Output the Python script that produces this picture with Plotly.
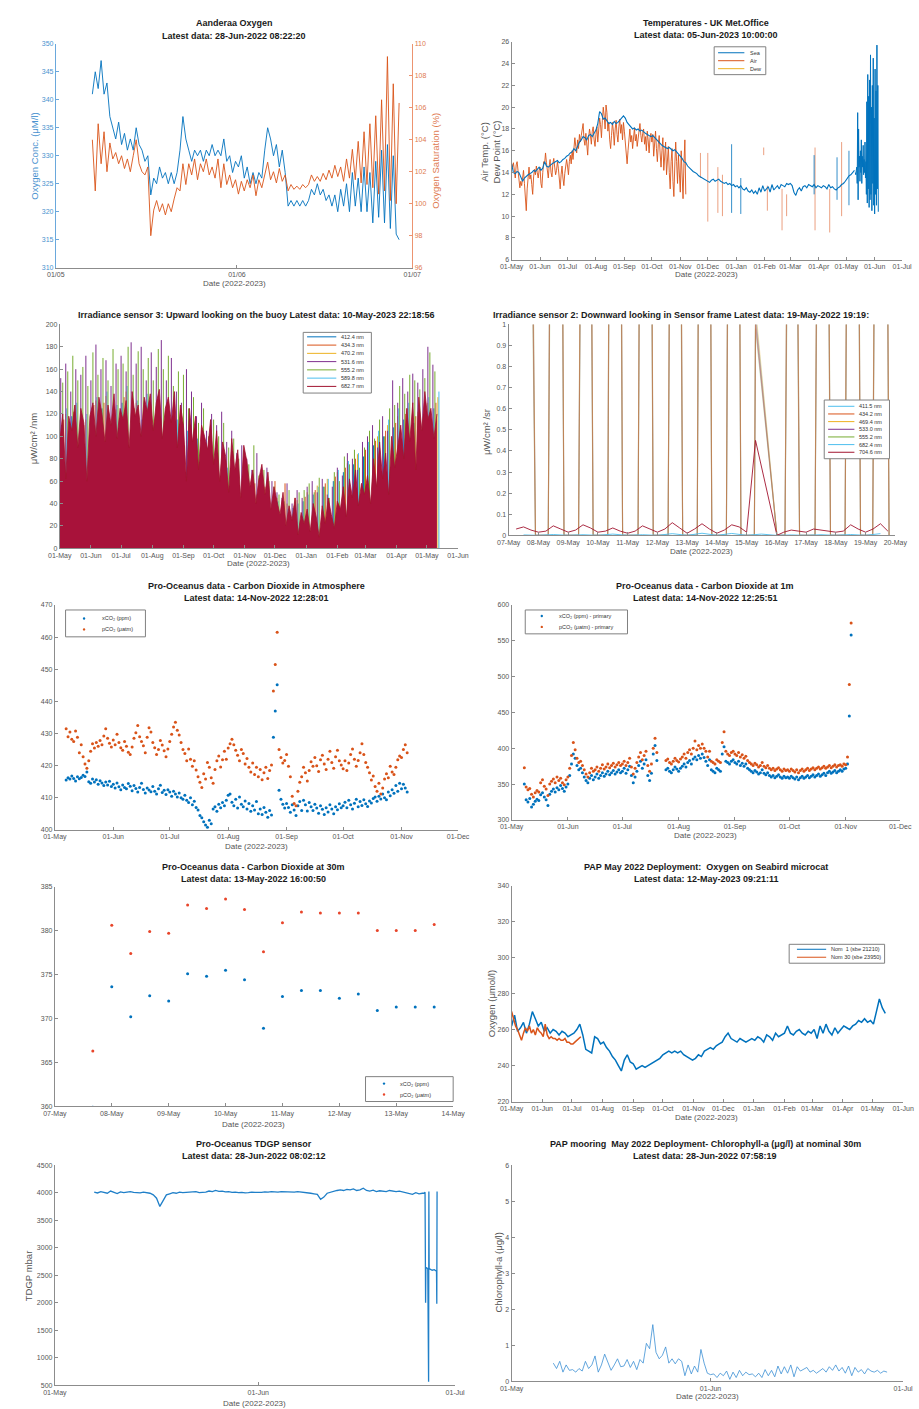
import pandas as pd
import plotly.graph_objects as go

# ======================= DATA =======================
# Panel 1: Aanderaa oxygen, 12-hourly
oxy_start = "2022-05-07 06:00"
oxy_conc = [
    341, 345, 342, 347, 341, 343, 337, 335, 333, 336,
    332, 334, 331, 333, 331, 335, 332, 331, 329, 330,
    323, 326, 325, 328, 326, 327, 325, 327, 325, 327,
    331, 337, 333, 331, 329, 331, 330, 331, 329, 331,
    330, 332, 330, 331, 330, 333, 329, 330, 327, 329,
    328, 330, 326, 328, 325, 327, 325, 327, 326, 331,
    335, 333, 330, 332, 328, 331, 327, 321, 322, 321,
    322, 321, 322, 321, 322, 324, 323, 325, 323, 324,
    322, 323, 321, 323, 320, 324, 321, 325, 320, 327,
    321, 326, 320, 328, 320, 327, 318, 329, 319, 331,
    318, 332, 317, 330, 316, 315]
oxy_sat = [
    104.0, 100.8, 105.0, 102.5, 104.5, 102.0, 103.8, 102.8, 103.2, 102.5,
    103.0, 102.2, 102.8, 102.0, 103.0, 104.0, 102.5, 102.0, 101.8, 102.3,
    98.0, 99.6, 100.2, 99.5, 100.0, 99.3, 100.0, 99.5, 100.3, 101.0,
    100.8, 102.5, 101.2, 102.5, 101.8, 102.8, 101.5, 102.5, 102.0, 102.8,
    101.8, 102.3, 101.6, 102.8, 101.0, 102.5, 101.2, 101.8, 101.0, 101.5,
    100.6, 101.4, 100.8, 101.5, 101.0, 101.8, 100.5, 101.5, 101.0, 101.8,
    102.6, 101.5, 102.0, 101.3, 102.2, 101.4, 101.8, 100.8, 101.2, 100.9,
    101.1, 100.9, 101.2, 101.0, 101.2, 101.8, 101.4, 101.7, 101.4, 101.9,
    101.5, 102.1, 101.6, 102.4, 101.7, 102.3, 101.4, 102.8, 101.6, 103.4,
    101.5, 103.9, 101.3, 104.5, 101.2, 105.0, 101.0, 105.5, 100.6, 106.5,
    100.8, 109.2, 100.2, 107.5, 100.0, 106.3]

# Panel 2: temperatures
sea_start = "2022-05-01"          # 2-day values
sea_temp = [
    14.8, 14.0, 13.9, 14.1, 14.0, 13.6, 13.2, 13.5, 13.7, 13.8, 13.9, 14.0, 14.2, 14.1, 14.3, 14.5,
    14.2, 14.4, 15.0, 14.6, 14.5, 14.7, 14.8, 14.9, 15.0, 15.1, 14.9, 15.0, 15.2, 15.3, 15.5,
    15.6, 15.8, 15.9, 16.2, 16.0, 16.4, 16.8, 17.0, 17.3, 17.2, 17.0, 17.4, 17.5, 17.3, 17.6,
    17.9, 18.5, 19.6, 19.4, 18.9, 19.0, 18.7, 18.5, 18.6, 18.4, 18.7, 18.5, 18.6, 18.8, 19.0, 19.2,
    19.0, 18.6, 18.4, 18.2, 18.0, 18.1, 17.9, 18.0, 17.8, 17.9, 17.7, 17.6, 17.5, 17.4, 17.3,
    17.4, 17.2, 17.0, 16.8, 16.7, 16.5, 16.4, 16.3, 16.2, 16.3, 16.1, 16.0, 16.1, 15.9, 15.8, 15.6,
    15.3, 15.0, 14.9, 14.6, 14.4, 14.3, 14.1, 14.0, 13.9, 13.7, 13.6, 13.5, 13.4, 13.3, 13.2,
    13.1, 13.3, 13.4, 13.2, 13.3, 13.4, 13.2, 13.1, 13.0, 13.1, 12.9, 13.0, 12.8, 12.9, 12.7, 12.8,
    12.6, 12.8, 12.5, 12.4, 12.6, 12.3, 12.2, 12.4, 12.1, 12.3, 12.0, 12.6, 12.2, 12.8, 12.3, 12.5,
    12.7, 12.2, 12.9, 12.4, 12.6, 12.8, 12.5, 12.9, 12.8, 12.7, 13.0, 12.9, 13.0, 12.8,
    12.2, 11.9, 12.4, 12.6, 12.3, 12.7, 12.8, 12.6, 12.9, 12.8, 12.7, 12.9, 12.6, 12.8, 12.7, 12.6,
    12.8, 12.7, 12.5, 12.9, 12.6, 12.7, 12.5, 12.4, 12.6, 12.7, 12.9, 13.0, 13.2, 13.5, 13.7,
    13.8, 14.0, 14.2]
sea_end_start = "2023-05-11"      # 12-hourly values
sea_temp_end = [
    14.0, 13.8, 14.2, 14.5, 13.0, 19.5, 11.5, 18.0, 14.5, 15.5, 13.2, 16.0, 14.0, 17.0, 13.0, 15.5,
    14.5, 16.5, 13.8, 15.2, 14.0, 16.8, 13.5, 15.0,
    12.0, 20.5, 11.2, 23.0, 12.5, 21.0, 10.8, 22.5, 11.5, 24.8, 12.0, 20.0, 10.5, 22.0, 13.0, 24.5,
    11.0, 19.0, 10.2, 23.5, 12.0, 21.5, 11.0, 25.7, 12.5, 22.0, 10.4]
sea_spike_dates = ["2022-12-27", "2023-01-06", "2023-03-27", "2023-04-21", "2023-05-04"]
sea_spike_lo = [10.3, 10.2, 12.0, 11.5, 11.0]
sea_spike_hi = [16.6, 13.5, 15.6, 15.4, 16.0]
air_start = "2022-05-01"          # daily values
air_temp = [
    14.8, 14.5, 14.9, 14.0, 13.5, 14.7, 15.0, 14.2, 13.0, 12.6, 13.2, 12.8, 13.5, 14.2, 13.0, 11.8,
    10.5, 12.5, 14.0, 14.5, 13.4, 13.8, 12.9, 12.0, 13.6, 14.3, 13.8, 14.6, 14.0, 13.5, 14.2,
    14.5, 13.0, 12.6, 14.0, 15.0, 14.8, 15.8, 14.9, 14.2, 13.5, 14.6, 15.2, 14.0, 13.6, 14.8,
    15.3, 14.5, 13.8, 14.2, 15.0, 14.4, 13.2, 12.5, 13.8, 14.6, 13.5, 12.8, 13.9, 14.7, 15.2,
    14.6, 13.8, 15.0, 15.6, 14.8, 16.0, 15.2, 16.5, 17.2, 16.4, 15.8, 17.0, 16.2, 17.5, 16.8,
    17.4, 18.0, 18.5, 17.0, 16.5, 17.6, 16.8, 15.6, 17.2, 18.0, 17.4, 16.6, 17.8, 18.2, 17.0, 16.4,
    17.5, 18.2, 16.8, 17.6, 19.0, 18.4, 17.2, 18.8, 20.0, 19.2, 18.0, 20.2, 19.5, 17.8, 18.6,
    17.0, 16.2, 17.4, 18.6, 17.8, 16.5, 18.0, 18.8, 17.5, 16.8, 18.2, 18.9, 17.6, 18.4, 17.0, 18.6,
    17.8, 16.5, 15.2, 14.8, 16.0, 17.5, 18.0, 16.8, 17.4, 16.2, 17.8, 18.1, 16.9, 17.5, 16.4,
    17.2, 18.3, 18.5, 17.4, 16.8, 17.6, 18.0, 16.6, 17.3, 16.0, 17.8, 16.9, 15.8, 17.2, 17.6,
    16.8, 17.5, 15.5, 16.9, 17.8, 16.2, 15.0, 16.6, 17.4, 15.8, 14.5, 16.0, 17.2, 14.2, 15.5,
    16.8, 13.8, 15.2, 16.4, 14.0, 12.5, 15.0, 16.2, 13.2, 11.8, 14.6, 16.8, 15.0, 13.0, 15.6, 14.2,
    12.2, 16.0, 13.5, 11.6, 14.8, 17.0, 12.0]
air_spike_dates = ["2022-11-23", "2022-12-01", "2022-12-12", "2022-12-17", "2023-01-31", "2023-02-04",
                   "2023-02-20", "2023-02-25", "2023-03-28", "2023-04-13", "2023-04-26"]
air_spike_lo = [13.5, 9.5, 10.3, 10.0, 15.6, 10.5, 8.7, 10.0, 8.7, 8.5, 10.0]
air_spike_hi = [15.8, 15.8, 14.5, 13.8, 16.3, 12.8, 12.5, 12.0, 16.3, 12.5, 16.8]
dew_temp = []
temp_labels = ["Sea", "Air", "Dew"]

# Panel 3: irradiance sensor 3 (daily peaks)
irr3_labels = ["412.4 nm", "434.3 nm", "470.2 nm", "531.6 nm", "555.2 nm", "589.8 nm", "682.7 nm"]
irr3_6827 = [
    95, 120, 62, 118, 105, 128, 90, 125, 112, 60, 118,
    130, 100, 135, 120, 95, 128, 110, 138, 98, 125,
    115, 132, 90, 140, 118, 128, 100, 135, 122, 138,
    105, 130, 142, 98, 125, 135, 112, 140, 90, 128, 110,
    60, 125, 95, 118, 70, 110, 100, 88, 115, 75,
    105, 60, 95, 82, 50, 98, 70, 88, 45, 92,
    78, 55, 70, 40, 62, 75, 48, 68, 35, 55,
    42, 30, 50, 20, 38, 25, 45, 12, 32, 22,
    35, 15, 40, 28, 10, 38, 22, 45, 30, 18, 42,
    35, 55, 28, 62, 45, 70, 38, 58, 48,
    65, 40, 80, 55, 95, 62, 85, 48, 100, 72, 90,
    110, 80, 125, 95, 130, 70, 135, 105, 140, 115,
    125, 98, 120]
irr3_5316 = [
    152, 165, 140, 160, 155, 172, 150, 182, 160, 168, 145, 165,
    172, 158, 184, 165, 180, 150, 175, 162, 186, 150, 170, 140,
    130, 160, 140, 118, 130, 105, 120, 110, 122, 95, 105, 85,
    92, 80, 70, 85, 62, 72, 60, 50, 45, 58, 40, 52,
    45, 55, 60, 50, 62, 48, 55, 72, 65, 85, 80, 70,
    95, 100, 110, 90, 118, 105, 150, 130, 152, 140, 156, 148,
    160, 180, 164]
irr3_5552 = [
    148, 158, 172, 150, 162, 145, 175, 155, 170, 150, 178, 160,
    165, 180, 155, 176, 160, 170, 150, 178, 160, 172, 145, 158,
    155, 125, 135, 112, 125, 100, 115, 100, 112, 90, 98, 80,
    88, 75, 92, 65, 70, 60, 55, 48, 42, 52, 38, 50,
    52, 58, 50, 63, 55, 45, 68, 60, 82, 75, 88, 72,
    90, 105, 98, 115, 100, 125, 128, 145, 138, 155, 150, 142,
    152, 175, 158]
irr3_5898 = [125, 130, 120, 135, 140, 128, 145, 132, 138, 130, 120, 115, 105, 98, 90, 85, 72, 65, 58,
             45, 38, 42, 35, 40, 48, 55, 62, 70, 78, 85, 95, 105, 115, 125, 130, 128, 135, 140]
irr3_4124 = [110, 118, 105, 122, 125, 112, 130, 120, 115, 110, 100, 95, 88, 82, 75, 70, 60, 55, 50,
             40, 35, 38, 32, 36, 42, 48, 55, 60, 68, 75, 82, 92, 100, 108, 115, 112, 120, 125]
irr3_4343 = [115, 122, 110, 128, 130, 118, 135, 125, 120, 115, 105, 100, 92, 86, 80, 74, 64, 58, 62,
             58, 55, 60, 58, 45, 46, 52, 58, 64, 72, 80, 88, 96, 105, 112, 120, 118, 125, 130]
irr3_4702 = [120, 128, 115, 132, 136, 124, 140, 130, 125, 120, 110, 104, 96, 90, 84, 78, 68, 62, 55,
             48, 42, 45, 40, 43, 50, 56, 62, 68, 76, 84, 92, 100, 110, 118, 125, 122, 130, 135]

# Panel 4: irradiance sensor 2 (days after 07-May-2022)
irr2_labels = ["411.5 nm", "434.2 nm", "469.4 nm", "533.0 nm", "555.2 nm", "682.4 nm", "704.6 nm"]
irr2_rise = [None, 1.33, 2.35, 3.33, 4.35, 5.36, 6.34, 7.32, 8.26, 9.29, 10.30, 11.31, 12.24]
irr2_mid = [0.45, 1.60, 2.60, 3.58, 4.60, 5.60, 6.58, 7.56, 8.30, 9.53, 10.56, 11.57, 12.52]
irr2_fall = [0.90, 1.86, 2.84, 3.83, 4.86, 5.85, 6.83, 7.81, 9.02, 9.78, 10.82, 11.83, 12.79]
irr2_4115 = [6.8, 7.4, 6.1, 8.3, 7.9, 7.0, 8.6, 7.8, 1.05, 5.2, 6.4, 7.1, 7.6]
irr2_4342 = [6.2, 6.9, 5.7, 7.8, 7.4, 6.6, 8.0, 7.3, 1.02, 4.9, 6.0, 6.7, 7.1]
irr2_4694 = [7.4, 8.0, 6.6, 9.0, 8.5, 7.6, 9.3, 8.4, 1.08, 5.6, 6.9, 7.7, 8.2]
irr2_5330 = [5.9, 6.4, 5.3, 7.2, 6.8, 6.1, 7.4, 6.7, 1.00, 4.5, 5.6, 6.2, 6.6]
irr2_5552 = [5.1, 5.6, 4.6, 6.3, 6.0, 5.3, 6.5, 5.9, 0.98, 3.9, 4.9, 5.4, 5.8]
irr2_6824 = [0.002, 0.0, 0.004, 0.0, 0.003, 0.0, 0.006, 0.0, 0.003, 0.0, 0.008, 0.0, 0.01,
             0.0, 0.009, 0.0, 0.006, 0.0, 0.002, 0.0, 0.003, 0.0, 0.004, 0.0, 0.008]
irr2_7046_t = [0.25, 0.5, 0.75, 1.0, 1.25, 1.5, 1.75, 2.0, 2.25, 2.5, 2.75, 3.0, 3.25, 3.5, 3.75,
               4.0, 4.25, 4.5, 4.75, 5.0, 5.25, 5.5, 5.75, 6.0, 6.25, 6.5, 6.75, 7.0, 7.25, 7.5,
               7.75, 8.0, 8.3, 9.02, 9.25, 9.5, 9.75, 10.0, 10.25, 10.5, 10.75, 11.0, 11.25,
               11.5, 11.75, 12.0, 12.25, 12.5, 12.75]
irr2_7046 = [0.03, 0.04, 0.025, 0.015, 0.02, 0.045, 0.03, 0.015, 0.025, 0.05, 0.035, 0.015, 0.02,
             0.035, 0.02, 0.01, 0.02, 0.045, 0.03, 0.015, 0.03, 0.06, 0.035, 0.01, 0.03, 0.055,
             0.03, 0.01, 0.025, 0.05, 0.04, 0.015, 0.45, 0.0, 0.015, 0.025, 0.02, 0.015, 0.03,
             0.025, 0.02, 0.015, 0.02, 0.05, 0.03, 0.015, 0.03, 0.055, 0.02]

# Panel 5: CO2 atmosphere, daily from 07-May-2022
co2a_start = "2022-05-07"
co2a_x = [
    415.5, 416.2, 415.8, 416.8, 416.0, 415.2, 416.5, 415.9, 416.3, 417.0, 416.6, 418.0, 415.0,
    414.5, 415.8, 414.9, 415.6, 414.2, 415.3, 414.6, 413.8, 414.9, 414.0, 415.1, 413.5,
    414.2, 413.0, 414.6, 413.4, 412.5, 414.0, 413.2, 412.8, 414.4, 413.6, 412.2, 413.8, 412.9,
    411.8, 413.2, 414.5, 412.6, 411.5, 413.0, 412.4, 411.9, 413.5, 412.0, 411.2, 412.8, 413.9,
    411.6, 412.3, 411.0, 412.5,
    411.8, 410.5, 412.0, 411.2, 410.2, 411.5, 410.0, 409.5, 410.8, 409.2, 408.5, 410.0, 407.8,
    408.9, 407.0, 406.2, 404.5, 403.8, 402.5, 401.5, 400.8, 403.0, 401.9, 406.5, 407.2, 405.8,
    408.0, 406.9, 408.5, 407.5, 409.2,
    410.8, 411.2, 408.6, 407.5, 409.5, 406.8, 410.2, 408.0, 407.2, 409.0, 406.5, 408.2, 405.8,
    407.5, 406.2, 408.8, 405.0, 406.5, 404.8, 407.0, 405.5, 403.9, 406.0, 404.6, 428.8, 437.0,
    445.2, 412.3, 409.5, 408.0, 406.8,
    408.2, 407.0, 405.5, 407.8, 406.2, 404.5, 407.5, 408.8, 406.0, 409.2, 407.8, 405.9, 408.5,
    407.2, 406.0, 408.0, 406.8, 405.2, 407.5, 406.4, 404.8, 406.9, 405.6, 407.8, 406.5, 405.0,
    407.2, 406.3, 408.1, 406.9,
    407.5, 408.6, 406.9, 409.2, 407.8, 406.5, 408.3, 409.5, 407.2, 408.8, 407.6, 409.4, 408.1,
    407.3, 409.0, 408.4, 409.8, 410.2, 408.9, 410.5, 409.6, 411.2, 410.0, 409.4, 411.8, 410.6,
    412.5, 411.4, 413.8, 412.0, 414.5,
    412.8, 414.2, 413.0, 411.8]
co2a_p = [
    431.5, 429.0, 430.5, 428.2, 427.5, 430.8, 428.8, 424.0, 426.5, 422.8, 420.5, 419.2, 421.5,
    424.5, 426.8, 425.5, 427.2, 426.0, 427.8, 426.5, 429.2, 431.5, 428.5, 427.0, 425.8,
    428.0, 426.5, 429.8, 427.2, 425.6, 424.8, 427.5, 426.0, 424.2, 423.5, 425.8, 428.5, 430.2,
    432.5, 429.0, 427.5, 426.2, 424.0, 428.8, 431.8, 430.5, 427.2, 425.6, 423.5, 425.0, 427.8,
    426.4, 424.6, 422.8, 425.2,
    427.5, 429.8, 432.0, 433.5, 431.0, 429.5, 427.2, 425.0, 423.8, 421.5, 425.2, 422.0, 419.8,
    421.5, 418.6, 416.5, 414.8, 413.2, 417.5, 415.8, 421.0, 419.5, 416.2, 414.5, 418.8, 421.5,
    423.0, 419.6, 421.8, 424.5, 422.0,
    425.5, 426.8, 428.2, 426.5, 424.8, 423.2, 421.5, 425.0, 423.8, 420.5, 422.2, 419.5, 418.0,
    420.8, 417.2, 419.5, 416.5, 418.8, 415.6, 417.8, 419.5, 416.0, 418.5, 420.2, 443.2, 451.5,
    461.5, 425.0, 422.5, 420.8, 421.6,
    423.5, 419.8, 416.5, 410.5, 408.2, 407.5, 412.0, 414.8, 416.5, 419.5, 417.8, 415.2, 418.5,
    421.2, 419.8, 422.5, 420.0, 418.2, 421.8, 423.2, 420.5, 418.8, 422.0, 424.5, 421.0, 419.2,
    422.8, 424.8, 421.5, 420.2,
    419.0, 421.5, 418.5, 420.8, 423.5, 425.2, 422.0, 419.8, 421.6, 424.0, 426.8, 423.5, 421.0,
    419.5, 417.8, 415.5, 416.8, 413.5, 412.0, 414.5, 411.2, 413.0, 415.8, 417.5, 416.2, 419.8,
    418.0, 417.2, 419.5, 421.8, 423.0,
    422.5, 425.0, 426.5, 424.0]

# Panel 6: CO2 at 1m, daily from 08-May-2022
co2s_start = "2022-05-08"
co2s_x = [
    350, 328, 325, 330, 318, 322, 326, 329, 327, 335, 338, 332, 328, 320, 336, 340, 343, 339,
    345, 342, 348, 344, 340, 346,
    350, 362, 378, 392, 386, 376, 370, 372, 366, 360, 355, 352, 358, 362, 356, 360, 364, 358,
    362, 366, 361, 364, 368, 363, 366, 369, 364, 367, 370, 366,
    368, 372, 365, 370, 375, 362, 352, 360, 368, 376, 382, 372, 378, 384, 362, 355, 365, 392,
    404, 383, None, None, None, None, 370, 372, 368, 366, 370, 374, 371,
    368, 372, 375, 378, 374, 380, 383, 378, 385, 388, 384, 390, 386, 392, 387, 382, 376, 384,
    370, 368, 366, 372, 370, 368, 392, 402, 382, 380, 378, 382, 384,
    380, 378, 382, 376, 379, 375, 378, 372, 370, 368, 366, 369, 367, 364, 366, 370, 365, 363,
    366, 362, 360, 362, 359, 361, 363, 360, 358, 361, 359, 360,
    358, 361, 359, 357, 360, 356, 359, 361, 358, 360, 362, 359, 361, 363, 360, 362, 364, 361,
    363, 365, 362, 366, 368, 365, 367, 369, 366, 368, 370, 368, 371,
    372, 378, 445, 558]
co2s_p = [
    373, 346, 342, 344, 336, 332, 338, 341, 339, 352, 356, 347, 343, 334, 350, 354, 357, 352,
    360, 355, 358, 352, 349, 356,
    360, 372, 390, 408, 398, 386, 380, 382, 376, 370, 364, 360, 366, 372, 368, 370, 374, 368,
    372, 377, 371, 374, 378, 373, 376, 379, 374, 377, 380, 376,
    378, 382, 376, 380, 386, 374, 364, 372, 380, 388, 394, 384, 390, 396, 376, 368, 378, 400,
    414, 394, None, None, None, None, 383, 385, 380, 378, 382, 386, 383,
    381, 385, 388, 392, 386, 394, 398, 392, 400, 410, 398, 404, 400, 406, 400, 396, 388, 396,
    382, 380, 378, 384, 382, 380, 408, 423, 396, 392, 390, 394, 396,
    392, 390, 394, 388, 391, 386, 389, 383, 380, 378, 376, 379, 377, 374, 376, 380, 375, 373,
    376, 372, 370, 372, 369, 371, 373, 370, 368, 371, 369, 370,
    368, 371, 369, 367, 370, 366, 369, 371, 368, 370, 372, 369, 371, 373, 370, 372, 374, 371,
    373, 375, 372, 374, 376, 373, 375, 377, 374, 376, 377, 375, 378,
    377, 388, 489, 575]

# Panel 7: CO2 at 30m, 8-hourly from 07-May-2022 16:00
co2d_start = "2022-05-07 16:00"
co2d_x = [359.9, 373.6, 370.2, 372.6, 372.0, 375.1, 374.8, 375.5, 374.4, 368.9, 372.5, 373.2,
          373.2, 372.3, 372.8, 370.9, 371.3, 371.3, 371.3]
co2d_p = [366.3, 380.6, 377.4, 379.9, 379.7, 382.9, 382.5, 383.6, 382.4, 377.6, 380.9, 382.1,
          382.0, 382.0, 382.0, 380.0, 380.0, 380.0, 380.7]

# Panel 8: microcat oxygen
mc_nom1_start = "2022-05-01"      # 3-day values
mc_nom1 = [
    262, 268, 259, 261, 264, 258, 263, 270, 266, 262, 264,
    259, 261, 258, 260, 259, 257, 259, 258, 256, 257,
    258, 260, 263, 257, 249, 248, 247, 256, 255, 252,
    253, 250, 248, 245, 243, 240, 237, 243, 246, 242, 241,
    238, 239, 240, 239, 240, 241, 242, 243, 244, 246,
    247, 248, 247, 248, 247, 248, 246, 245, 244, 243,
    244, 246, 245, 248, 249, 250, 249, 251, 252, 253,
    256, 258, 255, 254, 253, 255, 254, 253, 254, 255,
    254, 256, 255, 253, 257, 256, 254, 258, 256, 257, 258,
    262, 258, 257, 259, 260, 258, 257, 259, 258,
    260, 255, 262, 258, 263, 259, 257, 261, 258, 260, 262,
    261, 260, 262, 263, 265, 264, 266, 264, 265, 263,
    270, 277, 272, 269]
mc_nom30_start = "2022-05-01"     # 2-day values
mc_nom30 = [270, 266, 262, 260, 257, 254, 258, 261, 259, 262, 258, 260, 257, 261, 259, 258, 256,
            263, 257, 255, 256, 255, 255, 254, 255, 254, 254, 255, 253, 253, 252, 252, 253, 254,
            255, 256]
mc_labels = ["Nom  1 (sbe 21210)", "Nom 30 (sbe 23950)"]

# Panel 9: TDGP, 12-hourly from 07-May-2022
tdgp_start = "2022-05-07"
tdgp = [
    4010, 3995, 4020, 4000, 3990, 4030, 4005, 3985, 4015, 4000,
    4010, 4020, 4005, 4000, 3995, 4010, 4000, 3990, 3960, 3900,
    3750, 3850, 3960, 3980, 4000, 3990, 4010, 4000, 4005, 4015,
    4010, 4020, 4000, 4005, 4010, 4030, 4020, 4040, 4025, 4030,
    4015, 4020, 4005, 4010, 4000, 4005, 3995, 4000, 4010, 4005,
    4000, 4005, 4015, 4010, 4020, 4015, 4010, 4020, 4015, 4020,
    4015, 4010, 4020, 4015, 4005, 3995, 3990, 3980, 3970, 3880,
    3920, 3990, 4010, 4030, 4040, 4050, 4040, 4060, 4050, 4070,
    4040, 4050, 4080, 4040, 4030, 4045, 4020, 4035, 4030, 4020,
    4040, 4025, 4020, 4030, 4015, 4010, 3990, 3970, 4000, 3980,
    3990]
tdgp_tail_t = ["2022-06-26 06:00", "2022-06-26 10:00", "2022-06-26 12:00", "2022-06-26 13:00",
               "2022-06-26 20:00", "2022-06-26 23:00", "2022-06-27 00:00", "2022-06-27 01:00",
               "2022-06-27 12:00", "2022-06-27 20:00", "2022-06-28 04:00", "2022-06-28 05:00",
               "2022-06-28 06:00"]
tdgp_tail = [3990, 4010, 2000, 2640, 2620, 560, 4020, 2620, 2590, 2600, 2570, 1980, 4020]

# Panel 10: chlorophyll, 12-hourly from 07-May-2022 12:00
chl_start = "2022-05-07 12:00"
chl = [
    0.50, 0.35, 0.55, 0.25, 0.45, 0.30, 0.32, 0.25, 0.35, 0.28,
    0.55, 0.35, 0.45, 0.70, 0.25, 0.45, 0.75, 0.55, 0.30, 0.45,
    0.62, 0.40, 0.42, 0.60, 0.38, 0.55, 0.32, 0.60, 0.50, 1.05,
    0.90, 1.57, 0.80, 0.62, 0.72, 0.95, 0.50, 0.62, 0.48, 0.62,
    0.55, 0.15, 0.45, 0.20, 0.42, 0.25, 0.88, 0.50, 0.22,
    0.18, 0.20, 0.10, 0.22, 0.15, 0.28, 0.05, 0.25, 0.10, 0.30,
    0.15, 0.25, 0.18, 0.20, 0.12, 0.22, 0.10, 0.32, 0.15, 0.30,
    0.12, 0.42, 0.20, 0.40, 0.22, 0.45, 0.12, 0.40, 0.28, 0.32,
    0.38, 0.25, 0.30, 0.22, 0.28, 0.35, 0.25, 0.40, 0.30, 0.45,
    0.28, 0.38, 0.22, 0.42, 0.15, 0.38, 0.25, 0.32, 0.20, 0.35,
    0.28, 0.25, 0.30, 0.22, 0.28, 0.25]

# ======================= STYLE / LAYOUT =======================
W, H = 919, 1409
FONT = "Liberation Sans"
BLUE, ORANGE, YELLOW, PURPLE, GREEN, LBLUE, DRED = (
    "#0072BD", "#D95319", "#EDB120", "#7E2F8E", "#77AC30", "#4DBEEE", "#A2142F")
AXC = "#8c8c8c"
TXT = "#555555"

boxes = {1: (45, 411, 40, 265), 2: (513, 914, 38, 257), 3: (49, 458, 322, 547),
         4: (510, 907, 322, 534), 5: (44, 458, 604, 830), 6: (513, 912, 604, 820),
         7: (44, 453, 887, 1108), 8: (513, 915, 886, 1103), 9: (44, 455, 1167, 1388),
         10: (513, 915, 1167, 1384)}


def px(v):
    return v / W


def py(v):
    return 1 - v / H


layout = dict(width=W, height=H, autosize=False, margin=dict(l=0, r=0, t=0, b=0, pad=0),
              paper_bgcolor="white", plot_bgcolor="white", showlegend=False,
              font=dict(family=FONT, size=7, color=TXT))


def base_axis():
    return dict(showgrid=False, zeroline=False, showline=True, linecolor=AXC, linewidth=1,
                ticks="inside", ticklen=3, tickwidth=1, tickcolor=AXC,
                tickfont=dict(family=FONT, size=7, color=TXT))


def set_axes(i, xr, xdt, xfmt, yr, ydt):
    x0, x1, y0, y1 = boxes[i]
    xa = base_axis()
    xa.update(domain=[px(x0), px(x1)], anchor="y" if i == 1 else f"y{i}", type="date",
              range=xr, dtick=xdt, tick0=xr[0], tickformat=xfmt)
    ya = base_axis()
    ya.update(domain=[py(y1), py(y0)], anchor="x" if i == 1 else f"x{i}", range=yr, dtick=ydt)
    layout["xaxis" if i == 1 else f"xaxis{i}"] = xa
    layout["yaxis" if i == 1 else f"yaxis{i}"] = ya


DAY = 86400000
set_axes(1, ["2022-05-01", "2022-07-01"], "M1", "%d/%m", [310, 350], 5)
set_axes(2, ["2022-05-01", "2023-07-01"], "M1", "%d-%b", [6, 26], 2)
set_axes(3, ["2022-05-01", "2023-06-01"], "M1", "%d-%b", [0, 200], 20)
set_axes(4, ["2022-05-07", "2022-05-20"], DAY, "%d-%b", [0, 1], 0.1)
set_axes(5, ["2022-05-01", "2022-12-01"], "M1", "%d-%b", [400, 470], 10)
set_axes(6, ["2022-05-01", "2022-12-01"], "M1", "%d-%b", [300, 600], 50)
set_axes(7, ["2022-05-07", "2022-05-14"], DAY, "%d-%b", [360, 385], 5)
set_axes(8, ["2022-05-01", "2023-06-01"], "M1", "%d-%b", [220, 340], 20)
set_axes(9, ["2022-05-01", "2022-07-01"], "M1", "%d-%b", [500, 4500], 500)
set_axes(10, ["2022-05-01", "2022-07-01"], "M1", "%d-%b", [0, 6], 1)

# Panel 1 colored axes
layout["yaxis"].update(linecolor="#6aa8dc", tickcolor="#6aa8dc",
                       tickfont=dict(family=FONT, size=7, color="#4a92cf"))
y11 = base_axis()
y11.update(overlaying="y", side="right", anchor="x", range=[96, 110], dtick=2,
           linecolor="#ec9470", tickcolor="#ec9470", tickfont=dict(family=FONT, size=7, color="#e07a50"))
layout["yaxis11"] = y11

fig = go.Figure()


def ref(i):
    return ("x", "y") if i == 1 else (f"x{i}", f"y{i}")


def add_line(i, x, y, color, width=1.0, yref=None, **kw):
    xa, ya = ref(i)
    fig.add_trace(go.Scatter(x=x, y=y, mode="lines", line=dict(color=color, width=width),
                             xaxis=xa, yaxis=yref or ya, hoverinfo="skip", **kw))


def add_dots(i, x, y, color, size=3):
    xa, ya = ref(i)
    fig.add_trace(go.Scatter(x=x, y=y, mode="markers", marker=dict(color=color, size=size, line=dict(width=0)),
                             xaxis=xa, yaxis=ya, hoverinfo="skip"))


def spikes(dates, lo, hi):
    xs, ys = [], []
    for d, a, b in zip(dates, lo, hi):
        xs += [d, d, None]
        ys += [a, b, None]
    return xs, ys


def series_t(start, freq, vals):
    return pd.date_range(start, periods=len(vals), freq=freq)


# ---- Panel 1
add_line(1, series_t(oxy_start, "12h", oxy_sat), oxy_sat, ORANGE, 0.9, yref="y11")
add_line(1, series_t(oxy_start, "12h", oxy_conc), oxy_conc, BLUE, 0.9)

# ---- Panel 2
add_line(2, series_t(air_start, "D", air_temp), air_temp, ORANGE, 0.9)
sx, sy = spikes(pd.to_datetime(air_spike_dates), air_spike_lo, air_spike_hi)
add_line(2, sx, sy, "#e2774a", 0.7)
add_line(2, series_t(sea_start, "2D", sea_temp), sea_temp, BLUE, 1.1)
add_line(2, series_t(sea_end_start, "12h", sea_temp_end), sea_temp_end, BLUE, 1.0)
sx, sy = spikes(pd.to_datetime(sea_spike_dates), sea_spike_lo, sea_spike_hi)
add_line(2, sx, sy, BLUE, 0.8)
if dew_temp:
    add_line(2, series_t(air_start, "D", dew_temp), dew_temp, YELLOW, 0.9)

# ---- Panel 3
for vals, start, step, color in [
        (irr3_4124, "2022-05-03", "10D", BLUE), (irr3_4343, "2022-05-05", "10D", ORANGE),
        (irr3_4702, "2022-05-07", "10D", YELLOW), (irr3_5898, "2022-05-08", "10D", LBLUE),
        (irr3_5316, "2022-05-02", "5D", PURPLE), (irr3_5552, "2022-05-04", "5D", GREEN)]:
    t = series_t(start, step, vals)
    sx, sy = spikes(t, [0] * len(vals), vals)
    add_line(3, sx, sy, color, 1.0)
add_line(3, series_t("2022-05-01", "3D", irr3_6827), irr3_6827, DRED, 0.8,
         fill="tozeroy", fillcolor="#A8123A")

# ---- Panel 4
base4 = pd.Timestamp("2022-05-07")


def d4(v):
    return base4 + pd.to_timedelta(v, unit="D")


for peaks, color in [(irr2_4115, BLUE), (irr2_5552, GREEN), (irr2_5330, PURPLE),
                     (irr2_4694, YELLOW), (irr2_4342, ORANGE)]:
    xs, ys = [], []
    for r, m, p, f in zip(irr2_rise, irr2_mid, peaks, irr2_fall):
        if r is not None:
            xs.append(d4(r)); ys.append(0)
        xs.append(d4(m)); ys.append(p)
        xs.append(d4(f)); ys.append(0)
    add_line(4, xs, ys, color, 1.1, opacity=0.33)
add_line(4, [d4(0.5 + 0.5 * k) for k in range(len(irr2_6824))], irr2_6824, LBLUE, 0.9)
add_line(4, [d4(t) for t in irr2_7046_t], irr2_7046, DRED, 0.9)

# ---- Panel 5
add_dots(5, series_t(co2a_start, "D", co2a_x), co2a_x, BLUE)
add_dots(5, series_t(co2a_start, "D", co2a_p), co2a_p, ORANGE)

# ---- Panel 6
add_dots(6, series_t(co2s_start, "D", co2s_x), co2s_x, BLUE)
add_dots(6, series_t(co2s_start, "D", co2s_p), co2s_p, ORANGE)

# ---- Panel 7
add_dots(7, series_t(co2d_start, "8h", co2d_x), co2d_x, BLUE, 3)
add_dots(7, series_t(co2d_start, "8h", co2d_p), co2d_p, "#E8452A", 3)

# ---- Panel 8
add_line(8, series_t(mc_nom1_start, "3D", mc_nom1), mc_nom1, BLUE, 1.5)
add_line(8, series_t(mc_nom30_start, "2D", mc_nom30), mc_nom30, ORANGE, 1.5)

# ---- Panel 9
t9 = list(series_t(tdgp_start, "12h", tdgp)) + list(pd.to_datetime(tdgp_tail_t))
add_line(9, t9, tdgp + tdgp_tail, "#1f7fc8", 1.3)

# ---- Panel 10
add_line(10, series_t(chl_start, "12h", chl), chl, "#3b8fd4", 0.8)

# ======================= TEXT =======================
annots = []
shapes = []


def text(s, x, y, size, color="#222", bold=False, angle=0, xanchor="center"):
    annots.append(dict(text=f"<b>{s}</b>" if bold else s, x=px(x), y=py(y), xref="paper", yref="paper",
                       xanchor=xanchor, yanchor="middle", showarrow=False, textangle=angle,
                       font=dict(family=FONT, size=size, color=color)))


titles = [
    (228, 19, "Aanderaa Oxygen"), (228, 32, "Latest data: 28-Jun-2022 08:22:20"),
    (713, 19, "Temperatures - UK Met.Office"), (713, 31, "Latest data: 05-Jun-2023 10:00:00"),
    (251, 313, "Irradiance sensor 3: Upward looking on the buoy Latest data: 10-May-2023 22:18:56"),
    (251, 585, "Pro-Oceanus data - Carbon Dioxide in Atmosphere"), (251, 597, "Latest data: 14-Nov-2022 12:28:01"),
    (712, 585, "Pro-Oceanus data - Carbon Dioxide at 1m"), (712, 597, "Latest data: 14-Nov-2022 12:25:51"),
    (248, 867, "Pro-Oceanus data - Carbon Dioxide at 30m"), (248, 879, "Latest data: 13-May-2022 16:00:50"),
    (713, 867, "PAP May 2022 Deployment:  Oxygen on Seabird microcat"), (713, 879, "Latest data: 12-May-2023 09:21:11"),
    (248, 1146, "Pro-Oceanus TDGP sensor"), (248, 1158, "Latest data: 28-Jun-2022 08:02:12"),
    (712, 1146, "PAP mooring  May 2022 Deployment- Chlorophyll-a (μg/l) at nominal 30m"),
    (712, 1158, "Latest data: 28-Jun-2022 07:58:19"),
]
for x, y, s in titles:
    text(s, x, y, 9, "#1a1a1a", bold=True)
text("Irradiance sensor 2: Downward looking in Sensor frame Latest data: 19-May-2022 19:19:",
     492, 313, 9, "#1a1a1a", bold=True, xanchor="left")

for x, y in [(228, 281), (713, 272), (253, 562), (708, 550), (251, 847), (712, 836),
             (248, 1126), (713, 1119), (249, 1406), (714, 1399)]:
    text("Date (2022-2023)", x, y, 8, TXT)

text("Oxygen Conc. (μM/l)", 23, 153, 9.5, "#4a92cf", angle=-90)
text("Oxygen Saturation (%)", 435, 158, 9.5, "#e07a50", angle=-90)
text("Air Temp. (°C)<br>Dew Point (°C)", 491, 149, 9.5, TXT, angle=-90)
text("μW/cm² /nm", 22, 437, 9.5, TXT, angle=-90)
text("μW/cm² /sr", 488, 430, 9.5, TXT, angle=-90)
text("Oxygen (μmol/l)", 492, 1005, 9.5, TXT, angle=-90)
text("TDGP mbar", 17, 1278, 9.5, TXT, angle=-90)
text("Chlorophyll-a (μg/l)", 500, 1275, 9.5, TXT, angle=-90)


def legend_box(box, entries, first_row, step, key_x, text_x, kind, fsize=5.5):
    x0, x1, y0, y1 = box
    shapes.append(dict(type="rect", xref="paper", yref="paper", x0=px(x0), x1=px(x1), y0=py(y1), y1=py(y0),
                       line=dict(color="#808080", width=1), fillcolor="white", layer="above"))
    for k, (label, color) in enumerate(entries):
        ry = first_row + k * step
        if kind == "line":
            shapes.append(dict(type="line", xref="paper", yref="paper", x0=px(key_x[0]), x1=px(key_x[1]),
                               y0=py(ry), y1=py(ry), line=dict(color=color, width=1), layer="above"))
        else:
            r = 1.2
            shapes.append(dict(type="circle", xref="paper", yref="paper", x0=px(key_x - r), x1=px(key_x + r),
                               y0=py(ry + r), y1=py(ry - r), fillcolor=color, line=dict(width=0), layer="above"))
        text(label, text_x, ry, fsize, "#333", xanchor="left")


legend_box((721, 774, 43, 71), list(zip(temp_labels, [BLUE, ORANGE, YELLOW])), 49, 8, (725, 752), 756, "line")
legend_box((299, 369, 330, 391), list(zip(irr3_labels, [BLUE, ORANGE, YELLOW, PURPLE, GREEN, LBLUE, DRED])),
           334.5, 8.3, (303, 333), 336, "line")
legend_box((834, 901, 398, 457), list(zip(irr2_labels, [LBLUE, ORANGE, YELLOW, PURPLE, GREEN, LBLUE, DRED])),
           404.3, 7.7, (838, 865), 868, "line")
legend_box((55, 137, 609, 636), [("xCO₂ (ppm)", BLUE), ("pCO₂ (μatm)", ORANGE)],
           617.5, 11, 74, 90, "dot")
legend_box((527, 632, 609, 633), [("xCO₂ (ppm) - primary", BLUE), ("pCO₂ (μatm) - primary", ORANGE)],
           615, 11, 544, 560, "dot")
legend_box((363, 453, 1078, 1103), [("xCO₂ (ppm)", BLUE), ("pCO₂ (μatm)", "#E8452A")],
           1085, 11, 382, 396, "dot")
legend_box((798, 896, 945, 964), list(zip(mc_labels, [BLUE, ORANGE])), 950, 8, (806, 836), 839, "line")

layout["annotations"] = annots
layout["shapes"] = shapes
fig.update_layout(**layout)
fig.write_html("out.html")
